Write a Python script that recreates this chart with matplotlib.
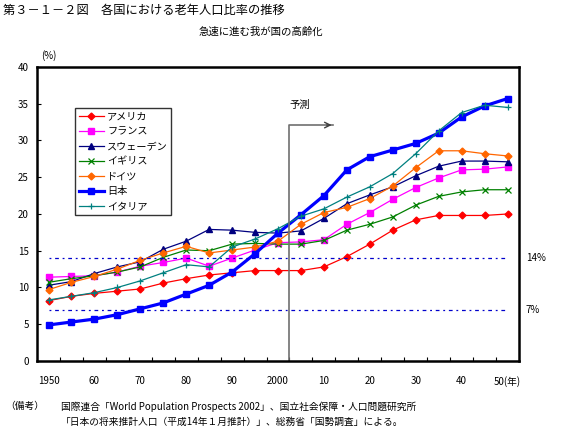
import matplotlib.pyplot as plt
import numpy as np

plt.rcParams['font.family'] = ['Noto Sans CJK JP', 'DejaVu Sans']

years = np.arange(1950, 2051, 5)

usa = [8.2, 8.8, 9.2, 9.5, 9.8, 10.6, 11.2, 11.7, 12.0, 12.3, 12.3,
       12.3, 12.8, 14.2, 15.9, 17.8, 19.2, 19.8, 19.8, 19.8, 20.0]
france = [11.4, 11.5, 11.6, 12.1, 12.9, 13.4, 14.0, 12.9, 14.0, 15.1, 16.1,
          16.2, 16.5, 18.6, 20.2, 22.0, 23.6, 24.9, 26.0, 26.1, 26.4]
sweden = [10.3, 10.8, 11.9, 12.8, 13.5, 15.2, 16.3, 17.9, 17.8, 17.5, 17.4,
          17.7, 19.4, 21.4, 22.6, 23.7, 25.2, 26.5, 27.2, 27.2, 27.1]
uk = [10.7, 11.2, 11.6, 12.1, 12.8, 14.1, 15.1, 15.0, 15.9, 16.0, 15.9,
      15.9, 16.4, 17.8, 18.6, 19.6, 21.2, 22.4, 23.0, 23.3, 23.3]
germany = [9.7, 10.7, 11.5, 12.5, 13.7, 14.7, 15.6, 14.7, 15.1, 15.5, 16.3,
           18.6, 20.2, 20.9, 22.1, 23.8, 26.3, 28.6, 28.6, 28.2, 27.9]
japan = [4.9, 5.3, 5.7, 6.3, 7.1, 7.9, 9.1, 10.3, 12.1, 14.6, 17.4,
         19.9, 22.5, 26.0, 27.8, 28.7, 29.6, 31.0, 33.2, 34.7, 35.7]
italy = [8.3, 8.8, 9.3, 10.0, 10.9, 12.0, 13.1, 12.8, 15.5, 16.6, 18.0,
         19.7, 20.7, 22.3, 23.7, 25.5, 28.2, 31.3, 33.8, 34.8, 34.5]

tick_years = [1950, 1960, 1970, 1980, 1990, 2000, 2010, 2020, 2030, 2040, 2050]
tick_labels = ['1950', '60', '70', '80', '90', '2000', '10', '20', '30', '40', '50(年)']

fig = plt.figure(figsize=(5.67, 4.30), dpi=100)
ax = fig.add_axes([0.0653, 0.1605, 0.85, 0.6837])

ax.plot(years, usa, '-D', color='#FF0000', lw=0.9, ms=3.5, label='アメリカ')
ax.plot(years, france, '-s', color='#FF00FF', lw=0.9, ms=5, label='フランス')
ax.plot(years, sweden, '-^', color='#000080', lw=0.9, ms=5, label='スウェーデン')
ax.plot(years, uk, '-x', color='#008000', lw=0.9, ms=4, mew=0.9, label='イギリス')
ax.plot(years, germany, '-D', color='#FF6600', lw=0.9, ms=3.5, label='ドイツ')
ax.plot(years, japan, '-s', color='#0000FF', lw=2.3, ms=4.5, label='日本')
ax.plot(years, italy, '-+', color='#008080', lw=0.9, ms=5, mew=0.9, label='イタリア')

# 14% / 7% lines
for v in [14, 7]:
    ax.plot([1950, 2049.5], [v, v], color='#0000CC', lw=0.9,
            dashes=(1.5, 3, 3, 3))
    ax.text(2054, v, f'{v}%', fontsize=7, va='center', ha='left',
            clip_on=False)

# forecast marker
ax.plot([2002.5, 2002.5, 2012], [0, 32.1, 32.1], color='#707070', lw=1.2)
ax.annotate('', xy=(2012.3, 32.1), xytext=(2010, 32.1),
            arrowprops=dict(arrowstyle='->', color='#404040', lw=1))
ax.text(2002.5, 34.8, '予測', fontsize=7.5, ha='left', va='center')

ax.set_xlim(1947.5, 2052.5)
ax.set_ylim(0, 40)
ax.set_xticks(tick_years)
ax.set_xticklabels(tick_labels)
ax.set_xticks(np.arange(1952.5, 2050, 5), minor=True)
ax.tick_params(axis='x', which='major', length=0, pad=11, labelsize=7)
ax.tick_params(axis='x', which='minor', direction='in', length=3, width=0.8)
ax.set_yticks(np.arange(0, 41, 5))
ax.tick_params(axis='y', direction='in', length=3, width=0.8, labelsize=7, pad=6)
for s in ax.spines.values():
    s.set_linewidth(1.8)

ax.text(1950, 40.8, '(%)', fontsize=7, ha='center', va='bottom')

leg = ax.legend(loc='upper left', bbox_to_anchor=(0.079, 0.862), fontsize=7.3,
                frameon=True, fancybox=False, edgecolor='black',
                handlelength=2.5, borderpad=0.35, labelspacing=0.5,
                handletextpad=0.3, borderaxespad=0)
leg.get_frame().set_linewidth(1.0)

fig.text(0.005, 0.975, '第３－１－２図　各国における老年人口比率の推移',
         fontsize=8.8, ha='left', va='center')
fig.text(0.46, 0.925, '急速に進む我が国の高齢化', fontsize=7.5,
         ha='center', va='center')
fig.text(0.009, 0.055, '（備考）', fontsize=7, ha='left', va='center')
fig.text(0.107, 0.055,
         '国際連合「World Population Prospects 2002」、国立社会保障・人口問題研究所',
         fontsize=7, ha='left', va='center')
fig.text(0.107, 0.02,
         '「日本の将来推計人口（平成14年１月推計）」、総務省「国勢調査」による。',
         fontsize=7, ha='left', va='center')

fig.savefig('out.png', dpi=100)
